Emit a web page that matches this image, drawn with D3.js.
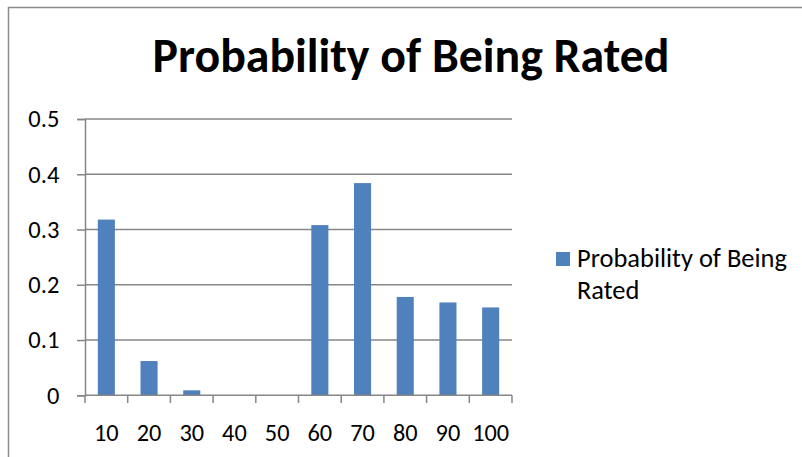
<!DOCTYPE html>
<html><head><meta charset="utf-8">
<script src="https://cdn.jsdelivr.net/npm/d3@7"></script>
<style>body{margin:0;background:#fff;} svg{display:block;font-family:Carlito, Calibri, Lato, sans-serif;}</style>
</head><body><svg id="c" width="802" height="457"></svg>
<script>
const categories = ["10","20","30","40","50","60","70","80","90","100"];
const values = [0.318, 0.062, 0.009, 0, 0, 0.308, 0.384, 0.178, 0.168, 0.159];
const yTicks = [0, 0.1, 0.2, 0.3, 0.4, 0.5];
const seriesName = "Probability of Being Rated";
const titleText = "Probability of Being Rated";

const svg = d3.select("#c");
const grid = "#868686";
svg.append("path").attr("d","M8.5,457 L8.5,7.5 L802,7.5").attr("fill","none").attr("stroke","#8c8c8c").attr("stroke-width",1.5);

function fit(t, w){ let fs=+t.attr("font-size"); const l=t.node().getComputedTextLength(); t.attr("font-size", fs*w/l); return fs*w/l; }
function measureFs(str, w){ const p = svg.append("text").attr("font-size",20).text(str); const f = fit(p, w); p.remove(); return f; }

const title = svg.append("text").attr("x",411).attr("y",72).attr("text-anchor","middle")
  .attr("font-weight","bold").attr("font-size",36).attr("fill","#000").text(titleText);
fit(title, 517);

const xFs = measureFs("100", 37);
const yFs = measureFs("0.5", 31);

const x = d3.scaleBand().domain(categories).range([85,512]).paddingInner(0.6).paddingOuter(0.3);
const xb = d3.scaleBand().domain(categories).range([85,512]);
const y = d3.scaleLinear().domain([0,0.5]).range([395.3,119]);

svg.append("g").selectAll("line").data(yTicks.filter(d=>d>0)).join("line")
  .attr("x1",85).attr("x2",512).attr("y1",d=>y(d)).attr("y2",d=>y(d))
  .attr("stroke",grid).attr("stroke-width",1.5);

svg.append("g").selectAll("rect").data(values).join("rect")
  .attr("x",(d,i)=>x(categories[i])).attr("width",x.bandwidth())
  .attr("y",d=>y(d)).attr("height",d=>y(0)-y(d)).attr("fill","#4F81BD");

const ya = svg.append("g").attr("transform","translate(85,0)")
  .call(d3.axisLeft(y).tickValues(yTicks).tickFormat(d=>d===0?"0":d3.format(".1f")(d)).tickSize(8).tickPadding(18));
ya.attr("font-family",null).attr("font-size",null);
ya.select(".domain").attr("stroke",grid).attr("stroke-width",1.5);
ya.selectAll(".tick line").attr("stroke",grid).attr("stroke-width",1.5);
ya.selectAll("text").attr("font-size",yFs).attr("fill","#000").attr("x",-25.7);

const xa = svg.append("g").attr("transform","translate(0,395.3)")
  .call(d3.axisBottom(xb).tickSize(0).tickPadding(28));
xa.attr("font-family",null).attr("font-size",null);
xa.select(".domain").remove();
xa.selectAll("text").attr("font-size",xFs).attr("fill","#000");
svg.append("line").attr("x1",85).attr("x2",512).attr("y1",395.3).attr("y2",395.3).attr("stroke",grid).attr("stroke-width",1.5);
const edges = categories.map(c=>xb(c)).concat([512]);
svg.append("g").selectAll("line").data(edges).join("line")
  .attr("x1",d=>d).attr("x2",d=>d).attr("y1",395.3).attr("y2",403).attr("stroke",grid).attr("stroke-width",1.5);

svg.append("rect").attr("x",556).attr("y",252).attr("width",14).attr("height",14).attr("fill","#4F81BD");
const words = seriesName.split(" ");
const l1 = svg.append("text").attr("x",577).attr("y",267).attr("font-size",21).attr("fill","#000").text(words.slice(0,3).join(" "));
fit(l1, 210);
svg.append("text").attr("x",577).attr("y",299).attr("font-size",l1.attr("font-size")).attr("fill","#000").text(words.slice(3).join(" "));
</script></body></html>
